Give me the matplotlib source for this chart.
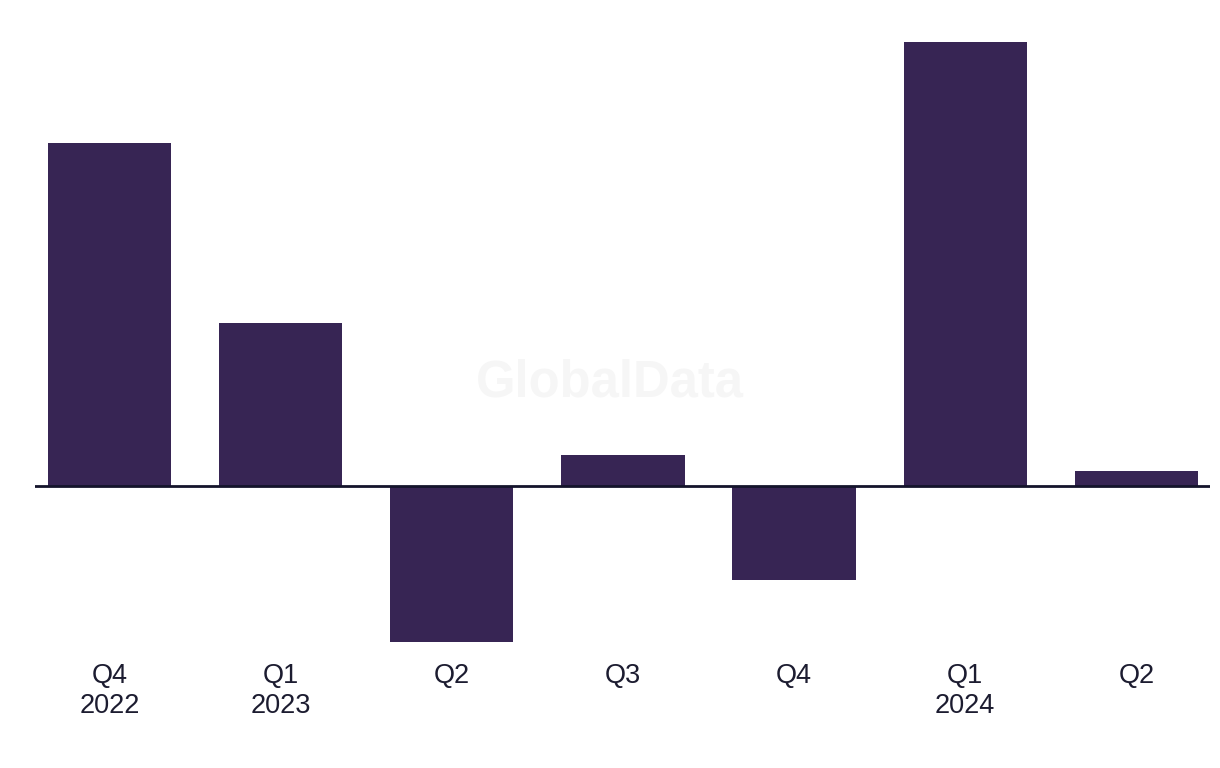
import matplotlib
matplotlib.use("Agg")
import matplotlib.pyplot as plt

categories = ["Q4\n2022", "Q1\n2023", "Q2", "Q3", "Q4", "Q1\n2024", "Q2"]
values = [343, 163, -156, 31, -94, 444, 15]

bar_color = "#372554"
text_color = "#1c1c30"

plt.rcParams['font.family'] = ['Liberation Sans', 'DejaVu Sans']

fig = plt.figure(figsize=(12.2, 7.68), dpi=100)
ax = fig.add_axes([35/1220, 1 - 650/768, (1210-35)/1220, 620/768])
x = list(range(len(categories)))
ax.bar(x, values, width=0.72, color=bar_color, zorder=2)
ax.axhline(0, color="#14142b", linewidth=2, zorder=3)
ax.set_xlim(-0.435, 6.43)
ax.set_ylim(-164, 456)
for s in ax.spines.values():
    s.set_visible(False)
ax.set_yticks([])
ax.set_xticks(x)
ax.set_xticklabels(categories, fontsize=19.5, color=text_color, linespacing=1.22, va='top')
ax.tick_params(axis='x', length=0, pad=9)
fig.text(610/1220, 1 - 383/768, "GlobalData", fontsize=36.5, fontweight='bold',
         color="#f6f6f6", ha='center', va='center', zorder=0)
fig.savefig("out.png", dpi=100, facecolor="white")
